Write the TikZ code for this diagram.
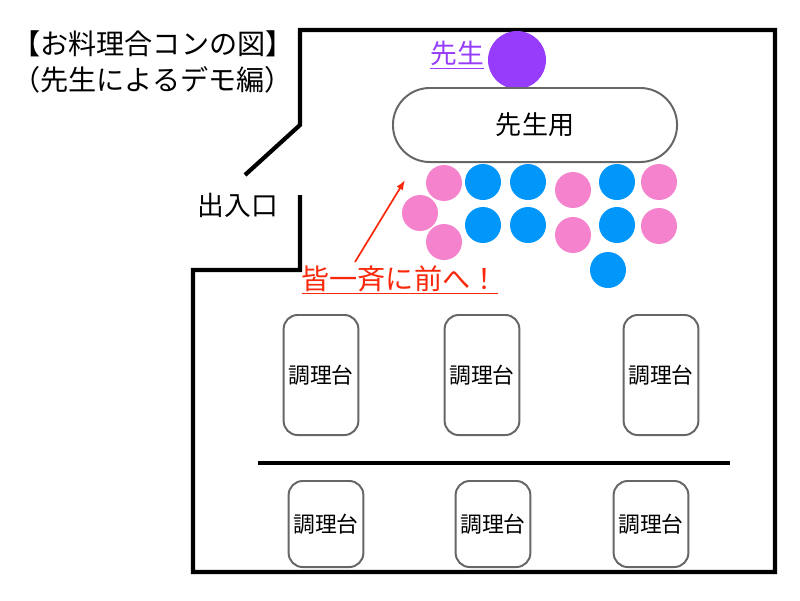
\documentclass[tikz,border=0pt]{standalone}
\usepackage{fontspec}
\setmainfont{Noto Sans CJK JP}
\usetikzlibrary{arrows.meta}
\definecolor{pinkc}{RGB}{245,130,205}
\definecolor{bluec}{RGB}{0,150,250}
\definecolor{purplec}{RGB}{150,60,250}
\definecolor{redc}{RGB}{250,40,10}
\tikzset{
  wall/.style={line width=3pt},
  table/.style={draw=black!60, line width=1.4pt, rounded corners=10pt, minimum width=1.8cm, minimum height=3cm, font=\fontsize{15.5}{18}\selectfont},
  girl/.style={circle, fill=pinkc, minimum size=0.9cm, inner sep=0pt},
  boy/.style={circle, fill=bluec, minimum size=0.9cm, inner sep=0pt}
}
\begin{document}
\begin{tikzpicture}[x=0.025cm, y=-0.025cm]
	\useasboundingbox (0,0) rectangle (800,600);
	% room
	\draw[wall] (245,175) -- (300,125) -- (300,30) -- (775,30) -- (775,572) -- (193,572) -- (193,270) -- (300,270) -- (300,195);
	\draw[wall] (258,463) -- (730,463);

	\node[font=\fontsize{20}{25}\selectfont, anchor=west, align=left, inner sep=0pt](title) at (12,62){【お料理合コンの図】\\（先生によるデモ編）};
	\node[font=\fontsize{19}{22}\selectfont](door) at (238,205){出入口};

	% teacher
	\node[circle, fill=purplec, minimum size=1.45cm, inner sep=0pt](sensei) at (517,60){};
	\node[font=\fontsize{19}{22}\selectfont, text=purplec](sensei_l) at (457,55){\underline{先生}};
	\node[draw=black!60, line width=1.4pt, rounded corners=0.92cm, minimum width=7.1cm, minimum height=1.85cm, font=\fontsize{18.5}{22}\selectfont](desk) at (535,125){先生用};

	% students
	\foreach \x/\y [count=\i] in {444/183, 420/213, 444/242, 573/190, 573/235, 659/182, 659/226}
		\node[girl](g\i) at (\x,\y){};
	\foreach \x/\y [count=\i] in {483/182, 528/182, 483/225, 528/225, 617/182, 617/225, 608/270}
		\node[boy](b\i) at (\x,\y){};

	\node[font=\fontsize{20}{24}\selectfont, text=redc](move) at (400,280){\underline{皆一斉に前へ！}};
	\coordinate (arr) at (405,180);
	\draw[redc, line width=1.2pt, -{Latex[length=7pt]}] (355,262) -- (arr);

	% cooking tables
	\node[table, minimum height=3cm](t1) at (321,375){調理台};
	\node[table, minimum height=3cm](t2) at (482,375){調理台};
	\node[table, minimum height=3cm](t3) at (661,375){調理台};
	\node[table, minimum height=2.15cm](t4) at (326,524){調理台};
	\node[table, minimum height=2.15cm](t5) at (493,524){調理台};
	\node[table, minimum height=2.15cm](t6) at (651,524){調理台};
\end{tikzpicture}
\end{document}
